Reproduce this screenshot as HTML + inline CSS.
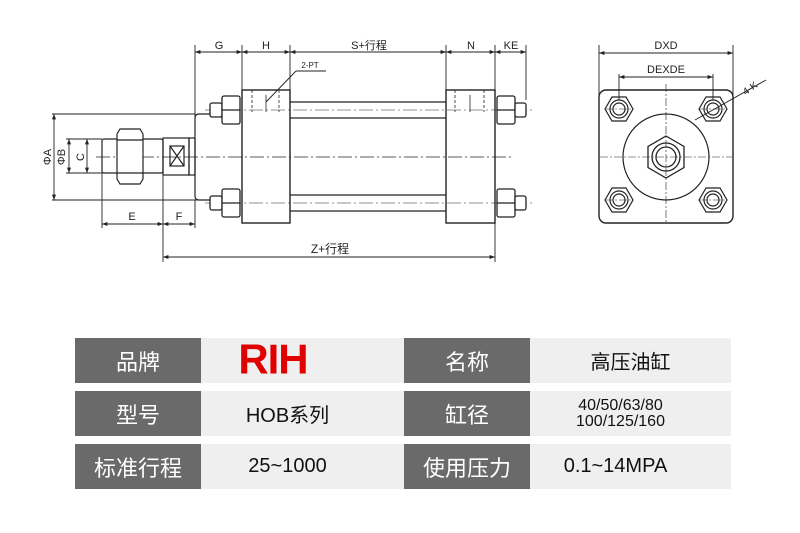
<!DOCTYPE html>
<html><head><meta charset="utf-8"><style>
body{margin:0;background:#fff;width:800px;height:533px;overflow:hidden;font-family:"Liberation Sans","Noto Sans CJK SC",sans-serif}
svg{position:absolute;left:0;top:0}
.c{position:absolute;display:flex;align-items:center;justify-content:center;text-align:center}
.d{background:#6a6a6a;color:#fff;font-size:22px}
.l{background:#efefef;color:#111;font-size:20px}
</style></head><body>
<svg width="800" height="300" viewBox="0 0 800 300" font-family="Liberation Sans, Noto Sans CJK SC, sans-serif" font-size="11" fill="none" stroke="#222" stroke-width="1.2">
<defs><marker id="a" viewBox="0 0 8 6" refX="8" refY="3" markerWidth="6" markerHeight="5" orient="auto-start-reverse"><path d="M0,0L8,3L0,6z" fill="#222" stroke="none"/></marker>
<g id="b" stroke-width="1.2"><path d="M-14,0l7,-12h14l7,12l-7,12h-14z"/><circle r="9"/><circle r="6"/></g></defs>
<line x1="96" y1="157" x2="512" y2="157" stroke-dasharray="14,3,2,3" stroke-width="0.8"/>
<g stroke-width="0.9">
<line x1="195" y1="45" x2="195" y2="120"/><line x1="242" y1="45" x2="242" y2="90"/><line x1="290" y1="45" x2="290" y2="90"/>
<line x1="446" y1="45" x2="446" y2="90"/><line x1="495" y1="45" x2="495" y2="90"/><line x1="526" y1="45" x2="526" y2="100"/>
<line x1="195" y1="52" x2="242" y2="52" marker-start="url(#a)" marker-end="url(#a)"/>
<line x1="242" y1="52" x2="290" y2="52" marker-start="url(#a)" marker-end="url(#a)"/>
<line x1="290" y1="52" x2="446" y2="52" marker-start="url(#a)" marker-end="url(#a)"/>
<line x1="446" y1="52" x2="495" y2="52" marker-start="url(#a)" marker-end="url(#a)"/>
<line x1="495" y1="52" x2="526" y2="52" marker-start="url(#a)" marker-end="url(#a)"/>
<line x1="52" y1="114" x2="195" y2="114"/><line x1="52" y1="200" x2="210" y2="200"/>
<line x1="54" y1="114" x2="54" y2="200" marker-start="url(#a)" marker-end="url(#a)"/>
<line x1="66" y1="139" x2="102" y2="139"/><line x1="66" y1="173" x2="102" y2="173"/>
<line x1="69" y1="139" x2="69" y2="173" marker-start="url(#a)" marker-end="url(#a)"/>
<line x1="87" y1="139" x2="87" y2="173" marker-start="url(#a)" marker-end="url(#a)"/>
<line x1="102" y1="173" x2="102" y2="228"/><line x1="163" y1="173" x2="163" y2="262"/><line x1="195" y1="200" x2="195" y2="228"/>
<line x1="495" y1="223" x2="495" y2="262"/>
<line x1="102" y1="224" x2="163" y2="224" marker-start="url(#a)" marker-end="url(#a)"/>
<line x1="163" y1="224" x2="195" y2="224" marker-start="url(#a)" marker-end="url(#a)"/>
<line x1="163" y1="257" x2="495" y2="257" marker-start="url(#a)" marker-end="url(#a)"/>
<line x1="266" y1="102" x2="296" y2="71"/><line x1="296" y1="71" x2="326" y2="71"/>
</g>
<rect x="102" y="139" width="61" height="34" rx="2"/>
<path d="M120,129h20l3,5v45l-3,5h-20l-3,-5v-45z" fill="#fff"/>
<line x1="117" y1="140" x2="143" y2="140"/><line x1="117" y1="173" x2="143" y2="173"/>
<rect x="163" y="138" width="26" height="37"/>
<rect x="170" y="146" width="14" height="20"/><line x1="170" y1="146" x2="184" y2="166"/><line x1="184" y1="146" x2="170" y2="166"/>
<rect x="189" y="138" width="6" height="37"/>
<path d="M210,114h-11q-4,0 -4,4v78q0,4 4,4h11"/>
<g stroke-width="1.3">
<line x1="290" y1="102" x2="446" y2="102"/><line x1="290" y1="118" x2="446" y2="118"/>
<line x1="290" y1="195" x2="446" y2="195"/><line x1="290" y1="211" x2="446" y2="211"/>
</g>
<line x1="205" y1="110" x2="535" y2="110" stroke-dasharray="14,3,2,3" stroke-width="0.6"/>
<line x1="205" y1="203" x2="535" y2="203" stroke-dasharray="14,3,2,3" stroke-width="0.6"/>
<rect x="242" y="90" width="48" height="133" stroke-width="1.4"/>
<rect x="446" y="90" width="49" height="133" stroke-width="1.4"/>
<g stroke-dasharray="3,2" stroke-width="0.8">
<line x1="252" y1="90" x2="252" y2="112"/><line x1="279" y1="90" x2="279" y2="112"/>
<line x1="455" y1="90" x2="455" y2="112"/><line x1="484" y1="90" x2="484" y2="112"/>
</g>
<line x1="266" y1="95" x2="266" y2="112" stroke-width="0.8"/><line x1="470" y1="95" x2="470" y2="112" stroke-width="0.8"/>
<g fill="#fff" stroke-width="1.3">
<rect x="210" y="103" width="12" height="14" rx="2"/><rect x="222" y="96" width="18" height="28" rx="2"/><line x1="222" y1="110" x2="240" y2="110"/>
<rect x="210" y="196" width="12" height="14" rx="2"/><rect x="222" y="189" width="18" height="28" rx="2"/><line x1="222" y1="203" x2="240" y2="203"/>
<rect x="497" y="96" width="18" height="28" rx="2"/><rect x="515" y="103" width="11" height="14" rx="2"/><line x1="497" y1="110" x2="515" y2="110"/>
<rect x="497" y="189" width="18" height="28" rx="2"/><rect x="515" y="196" width="11" height="14" rx="2"/><line x1="497" y1="203" x2="515" y2="203"/>
</g>
<g fill="#222" stroke="none" text-anchor="middle">
<text x="219" y="49">G</text><text x="266" y="49">H</text><text x="369" y="49">S+行程</text><text x="471" y="49">N</text><text x="511" y="49">KE</text>
<text x="310" y="68" font-size="8">2-PT</text>
<text x="132" y="220">E</text><text x="179" y="220">F</text><text x="330" y="253" font-size="12">Z+行程</text>
<text transform="translate(51,157) rotate(-90)">ΦA</text>
<text transform="translate(65,157) rotate(-90)">ΦB</text>
<text transform="translate(84,157) rotate(-90)">C</text>
<text x="666" y="49">DXD</text><text x="666" y="73">DEXDE</text>
<text transform="translate(752,91) rotate(-35)" font-size="10">4-K</text>
</g>
<g stroke-width="0.9">
<line x1="599" y1="45" x2="599" y2="95"/><line x1="733" y1="45" x2="733" y2="95"/>
<line x1="599" y1="53" x2="733" y2="53" marker-start="url(#a)" marker-end="url(#a)"/>
<line x1="619" y1="74" x2="619" y2="100"/><line x1="713" y1="74" x2="713" y2="100"/>
<line x1="619" y1="77" x2="713" y2="77" marker-start="url(#a)" marker-end="url(#a)"/>
<line x1="695" y1="120" x2="766" y2="80"/>
</g>
<rect x="599" y="90" width="134" height="133" rx="7" stroke-width="1.4"/>
<circle cx="666" cy="157" r="43"/>
<g stroke-dasharray="8,2,2,2" stroke-width="0.6">
<line x1="600" y1="157" x2="732" y2="157"/><line x1="666" y1="84" x2="666" y2="224"/>
<line x1="605" y1="109" x2="633" y2="109"/><line x1="699" y1="109" x2="727" y2="109"/>
<line x1="605" y1="200" x2="633" y2="200"/><line x1="699" y1="200" x2="727" y2="200"/>
</g>
<g stroke-width="1.3">
<path d="M666,136l18,10.5v21l-18,10.5l-18,-10.5v-21z"/>
<circle cx="666" cy="157" r="14"/><circle cx="666" cy="157" r="10"/>
</g>
<use href="#b" x="619" y="109"/><use href="#b" x="713" y="109"/><use href="#b" x="619" y="200"/><use href="#b" x="713" y="200"/>
</svg>
<div class="c d" style="left:75px;top:338px;width:126px;height:45px">品牌</div>
<div class="c l" style="left:201px;top:338px;width:203px;height:45px"><span style="color:#e00000;font-weight:bold;font-size:40px;letter-spacing:-1px;display:inline-block;transform:scale(1.05,1.05);margin-left:-60px">RIH</span></div>
<div class="c d" style="left:404px;top:338px;width:126px;height:45px">名称</div>
<div class="c l" style="left:530px;top:338px;width:201px;height:45px">高压油缸</div>
<div class="c d" style="left:75px;top:391px;width:126px;height:45px">型号</div>
<div class="c l" style="left:201px;top:391px;width:203px;height:45px"><span style="margin-left:-30px">HOB系列</span></div>
<div class="c d" style="left:404px;top:391px;width:126px;height:45px">缸径</div>
<div class="c l" style="left:530px;top:391px;width:201px;height:45px;font-size:16px;line-height:16px"><span style="margin-left:-20px">40/50/63/80<br>100/125/160</span></div>
<div class="c d" style="left:75px;top:444px;width:126px;height:45px">标准行程</div>
<div class="c l" style="left:201px;top:444px;width:203px;height:45px"><span style="margin-left:-30px">25~1000</span></div>
<div class="c d" style="left:404px;top:444px;width:126px;height:45px">使用压力</div>
<div class="c l" style="left:530px;top:444px;width:201px;height:45px"><span style="margin-left:-30px">0.1~14MPA</span></div>
</body></html>
